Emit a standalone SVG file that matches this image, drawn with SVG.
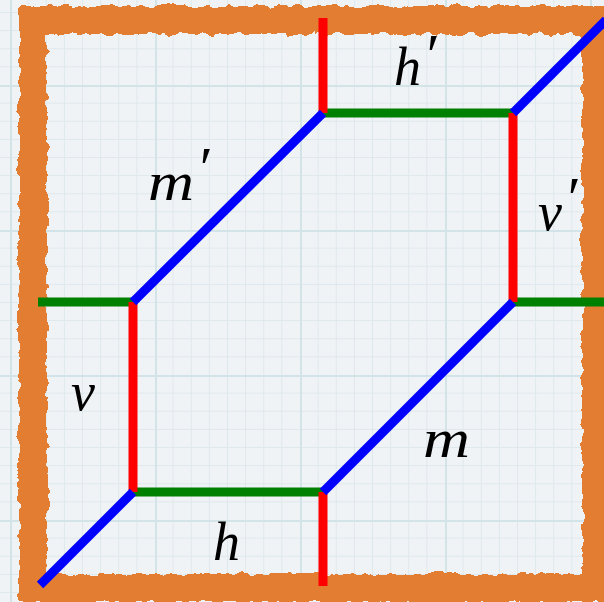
<svg xmlns="http://www.w3.org/2000/svg" width="604" height="602" viewBox="0 0 604 602">
  <defs>
    <pattern id="grid" patternUnits="userSpaceOnUse" x="10" y="85" width="145" height="145">
      <rect width="145" height="145" fill="#f0f3f6"/>
      <g stroke="#dfe9ed" stroke-width="1">
        <path d="M18.1 0V145M36.25 0V145M54.4 0V145M72.5 0V145M90.6 0V145M108.75 0V145M126.9 0V145"/>
        <path d="M0 18.1H145M0 36.25H145M0 54.4H145M0 72.5H145M0 90.6H145M0 108.75H145M0 126.9H145"/>
      </g>
      <g stroke="#d2e4e8" stroke-width="2">
        <path d="M1 0V145M0 1H145"/>
      </g>
    </pattern>
    <filter id="rough" x="-10%" y="-10%" width="120%" height="120%">
      <feTurbulence type="fractalNoise" baseFrequency="0.09" numOctaves="3" seed="4" result="n"/>
      <feDisplacementMap in="SourceGraphic" in2="n" scale="9" xChannelSelector="R" yChannelSelector="G"/>
    </filter>
    <style>
      .lbl { font-family: "Liberation Serif", "DejaVu Serif", serif; font-style: italic; font-size: 54px; fill: #000; }
      .pr { font-size: 60px; }
      .g { stroke: #008000; stroke-width: 9; fill: none; }
      .r { stroke: #ff0000; stroke-width: 9; fill: none; }
      .b { stroke: #0000ff; stroke-width: 9; fill: none; }
    </style>
  </defs>

  <rect width="604" height="602" fill="url(#grid)"/>

  <g id="frame" filter="url(#rough)">
    <rect x="33" y="20" width="563" height="568" fill="none" stroke="#e27d32" stroke-width="28"/>
  </g>

  <g id="connectors">
    <g id="green">
      <line class="g" x1="38" y1="302" x2="133" y2="302"/>
      <line class="g" x1="323" y1="113" x2="513" y2="113"/>
      <line class="g" x1="513" y1="302" x2="604" y2="302"/>
      <line class="g" x1="133" y1="492" x2="323" y2="492"/>
    </g>
    <g id="red">
      <line class="r" x1="323" y1="18" x2="323" y2="113"/>
      <line class="r" x1="133" y1="302" x2="133" y2="492"/>
      <line class="r" x1="513" y1="113" x2="513" y2="302"/>
      <line class="r" x1="323" y1="492" x2="323" y2="586"/>
    </g>
    <g id="blue">
      <line class="b" x1="40" y1="585" x2="133" y2="492"/>
      <line class="b" x1="133" y1="302" x2="323" y2="113"/>
      <line class="b" x1="323" y1="492" x2="513" y2="302"/>
      <line class="b" x1="513" y1="113" x2="606" y2="20"/>
    </g>
  </g>

  <g id="labels">
    <g id="label-h-prime"><text class="lbl" x="394" y="85">h<tspan class="pr" dx="2" dy="-10">′</tspan></text></g>
    <g id="label-m-prime"><text class="lbl" x="148" y="200"><tspan textLength="46" lengthAdjust="spacingAndGlyphs">m</tspan><tspan class="pr" dx="2" dy="-12">′</tspan></text></g>
    <g id="label-v-prime"><text class="lbl" x="538" y="230">v<tspan class="pr" dx="2" dy="-12">′</tspan></text></g>
    <g id="label-v"><text class="lbl" x="71" y="410">v</text></g>
    <g id="label-m"><text class="lbl" x="423" y="457" textLength="47" lengthAdjust="spacingAndGlyphs">m</text></g>
    <g id="label-h"><text class="lbl" x="213" y="560">h</text></g>
  </g>
</svg>
